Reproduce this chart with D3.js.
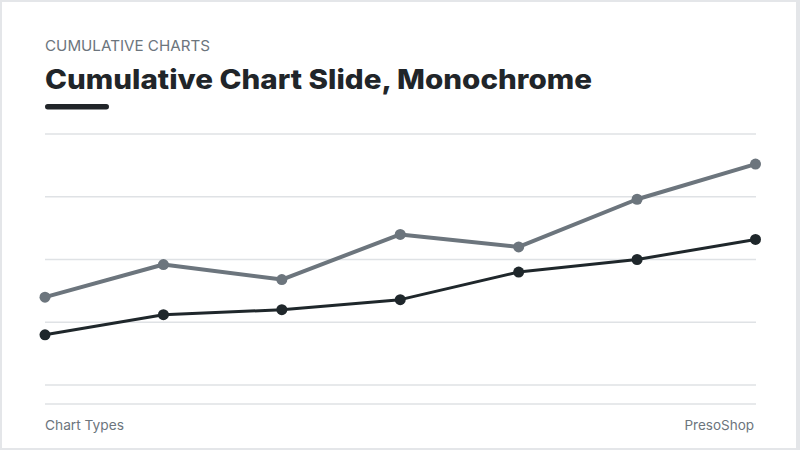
<!doctype html>
<html>
<head>
	<meta charset="UTF-8">
	<title>Cumulative Chart Slide, Monochrome</title>
	<script src="https://d3js.org/d3.v7.min.js"></script>
	<style>
		body { margin: 0; background: #fff; }
		text { font-family: Inter, "Noto Sans", sans-serif; }
	</style>
</head>
<body>
	<script>
		// Data: 7 points, two stacked series
		var categories = ["P1", "P2", "P3", "P4", "P5", "P6", "P7"];
		var baseSeries = [20, 28, 30, 34, 45, 50, 58];
		var topSeries = [15, 20, 12, 26, 10, 24, 30];
		var yTicks = [0, 25, 50, 75, 100];

		var W = 800, H = 450;

		var svg = d3.select("body").append("svg")
			.attr("width", W)
			.attr("height", H);

		// slide frame
		svg.append("rect")
			.attr("x", 0).attr("y", 0)
			.attr("width", W).attr("height", H)
			.attr("fill", "#e4e6e9");
		svg.append("rect")
			.attr("x", 2).attr("y", 2)
			.attr("width", 794).attr("height", 446)
			.attr("fill", "#ffffff");

		// header
		svg.append("text")
			.attr("x", 45).attr("y", 51)
			.attr("font-size", 15)
			.attr("fill", "#6c757d")
			.attr("textLength", 165)
			.attr("lengthAdjust", "spacingAndGlyphs")
			.text("CUMULATIVE CHARTS");

		svg.append("text")
			.attr("x", 45).attr("y", 89)
			.attr("font-size", 27)
			.attr("font-weight", 800)
			.attr("fill", "#212529")
			.attr("textLength", 547)
			.attr("lengthAdjust", "spacingAndGlyphs")
			.text("Cumulative Chart Slide, Monochrome");

		svg.append("rect")
			.attr("x", 45).attr("y", 104)
			.attr("width", 64).attr("height", 5.5)
			.attr("rx", 2.75)
			.attr("fill", "#212529");

		// scales
		var x = d3.scalePoint()
			.domain(categories)
			.range([45, 755.5]);
		var y = d3.scaleLinear()
			.domain([0, 100])
			.range([385, 134]);

		// gridlines
		svg.append("g")
			.selectAll("line")
			.data(yTicks)
			.join("line")
				.attr("x1", 45).attr("x2", 756)
				.attr("y1", function(d) { return y(d); })
				.attr("y2", function(d) { return y(d); })
				.attr("stroke", "#dfe2e5")
				.attr("stroke-width", 1.5);

		// footer rule
		svg.append("line")
			.attr("x1", 45).attr("x2", 756)
			.attr("y1", 404).attr("y2", 404)
			.attr("stroke", "#dfe2e5")
			.attr("stroke-width", 1.5);

		// stack the two series
		var rows = categories.map(function(c, i) {
			return {cat: c, base: baseSeries[i], top: topSeries[i]};
		});
		var stacked = d3.stack().keys(["base", "top"])(rows);

		var styles = [
			{color: "#1f272b", width: 3, r: 5.5},
			{color: "#6c757d", width: 4, r: 5.5}
		];

		var line = d3.line()
			.x(function(d) { return x(d.data.cat); })
			.y(function(d) { return y(d[1]); });

		// draw top series first so the dark one sits above
		[1, 0].forEach(function(k) {
			var s = stacked[k], st = styles[k];
			svg.append("path")
				.datum(s)
				.attr("fill", "none")
				.attr("stroke", st.color)
				.attr("stroke-width", st.width)
				.attr("stroke-linejoin", "round")
				.attr("d", line);
			svg.append("g")
				.selectAll("circle")
				.data(s)
				.join("circle")
					.attr("cx", function(d) { return x(d.data.cat); })
					.attr("cy", function(d) { return y(d[1]); })
					.attr("r", st.r)
					.attr("fill", st.color);
		});

		// footer
		svg.append("text")
			.attr("x", 45).attr("y", 430)
			.attr("font-size", 13.5)
			.attr("fill", "#6c757d")
			.attr("textLength", 79)
			.attr("lengthAdjust", "spacingAndGlyphs")
			.text("Chart Types");
		svg.append("text")
			.attr("x", 754).attr("y", 430)
			.attr("font-size", 13.5)
			.attr("fill", "#6c757d")
			.attr("text-anchor", "end")
			.text("PresoShop");
	</script>
</body>
</html>
